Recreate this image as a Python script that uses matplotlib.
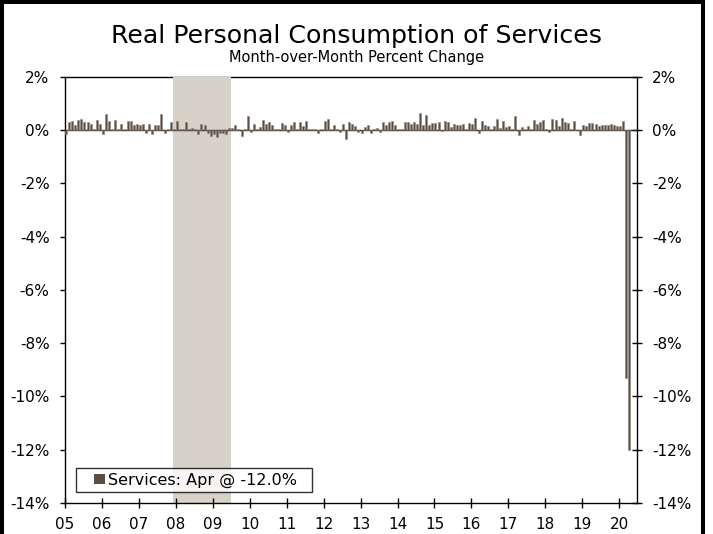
import matplotlib
matplotlib.use("Agg")
import matplotlib.pyplot as plt
from matplotlib.patches import Rectangle
from matplotlib.legend_handler import HandlerPatch

# month-over-month % change, Jan 2005 .. Apr 2020 (one line per year)
services_mom = [
    -0.15, 0.30, 0.35, 0.20, 0.40, 0.42, 0.30, 0.30, 0.25, 0.05, 0.40, 0.24,   # 2005
    -0.15, 0.60, 0.33, 0.05, 0.40, 0.05, 0.25, 0.05, 0.33, 0.35, 0.20, 0.25,   # 2006
    0.20, 0.25, -0.10, 0.25, -0.15, 0.18, 0.18, 0.60, -0.10, 0.05, 0.30, 0.05,  # 2007
    0.33, 0.05, 0.05, 0.30, 0.05, 0.10, 0.05, -0.15, 0.25, 0.18, -0.10, -0.22,  # 2008
    -0.15, -0.25, -0.10, -0.10, -0.15, 0.10, 0.10, 0.20, 0.03, -0.20, 0.03, 0.55,  # 2009
    -0.08, 0.25, 0.03, 0.12, 0.40, 0.25, 0.30, 0.20, 0.05, 0.03, 0.27, 0.20,   # 2010
    -0.08, 0.20, 0.30, 0.03, 0.30, 0.15, 0.36, 0.05, 0.03, 0.05, -0.10, 0.05,  # 2011
    0.36, 0.42, 0.03, 0.18, 0.03, -0.06, 0.25, -0.32, 0.30, 0.25, 0.15, -0.07,  # 2012
    -0.12, 0.12, 0.20, -0.12, 0.05, 0.08, -0.07, 0.30, 0.20, 0.30, 0.36, 0.20,  # 2013
    0.03, 0.03, 0.30, 0.30, 0.25, 0.32, 0.25, 0.65, 0.20, 0.57, 0.20, 0.27,    # 2014
    0.27, 0.31, -0.04, 0.33, 0.30, 0.12, 0.25, 0.20, 0.20, 0.25, 0.03, 0.27,   # 2015
    0.25, 0.45, -0.12, 0.33, 0.20, 0.17, 0.05, 0.15, 0.42, 0.08, 0.33, 0.12,   # 2016
    0.17, 0.03, 0.55, -0.16, 0.12, 0.05, 0.15, 0.05, 0.37, 0.25, 0.30, 0.37,   # 2017
    0.05, -0.07, 0.42, 0.37, 0.17, 0.45, 0.30, 0.27, 0.03, 0.33, 0.02, -0.16,  # 2018
    0.20, 0.15, 0.27, 0.27, 0.25, 0.15, 0.20, 0.20, 0.20, 0.22, 0.20, 0.17,    # 2019
    0.15, 0.35, -9.3, -12.0,                                                   # 2020
]
months = list(range(len(services_mom)))

year_labels = ["05", "06", "07", "08", "09", "10", "11", "12", "13", "14",
               "15", "16", "17", "18", "19", "20"]
year_ticks = [12 * i for i in range(len(year_labels))]

y_ticks = [2, 0, -2, -4, -6, -8, -10, -12, -14]
y_labels = ["2%", "0%", "-2%", "-4%", "-6%", "-8%", "-10%", "-12%", "-14%"]

# recession Dec 2007 - Jun 2009 (month index, end exclusive)
rec_start = 35
rec_end = 54

bar_color = '#5b4d44'
legend_label = 'Services: Apr @ -12.0%'

plt.rcParams['font.family'] = ['DejaVu Sans']


def square_right(legend, orig_handle, xdescent, ydescent, width, height, fontsize):
    # legend key: small square sitting at the right end of the handle box
    s = height
    return Rectangle((-xdescent + width - s, -ydescent), s, s)


fig = plt.figure(figsize=(7.13, 5.34), dpi=100)
ax = fig.add_axes([0.0912, 0.0581, 0.8018, 0.7977])

ax.axvspan(rec_start, rec_end, color='#d6d2c7', zorder=1, lw=0)
ax.bar(months, services_mom, width=0.65, align='edge', color=bar_color,
       edgecolor='#8f8379', linewidth=0.4, zorder=3)
ax.axhline(0, color='#222222', lw=1.0, zorder=2)

ax.set_xlim(0, 185.7)
ax.set_ylim(-14, 2)
ax.set_xticks(year_ticks)
ax.set_xticklabels(year_labels)
ax.set_yticks(y_ticks)
ax.set_yticklabels(y_labels)
ax.tick_params(axis='x', direction='inout', length=6.5, width=1, labelsize=11,
               pad=7)
ax.tick_params(axis='y', left=True, right=True, labelleft=True,
               labelright=True, labelsize=11, width=1, length=3.6,
               direction='out', pad=7.5)
# right-hand ticks cross the axis
for t in ax.yaxis.get_major_ticks():
    t.tick2line.set_marker('_')
    t.tick2line.set_markersize(7)

for s in ax.spines.values():
    s.set_linewidth(1)
ax.spines['top'].set_zorder(0.5)

proxy = Rectangle((0, 0), 1, 1, facecolor=bar_color, edgecolor='none')
leg = ax.legend([proxy], [legend_label], loc='lower left',
                bbox_to_anchor=(0.0192, 0.0266, 0.4123, 0.05),
                mode='expand', fontsize=11.5, frameon=True, fancybox=False,
                edgecolor='black', handlelength=1.55, handleheight=0.62,
                handletextpad=0.2, borderpad=0.25, borderaxespad=0,
                handler_map={Rectangle: HandlerPatch(patch_func=square_right)})
leg.get_frame().set_linewidth(1)

fig.text(0.5, 0.933, "Real Personal Consumption of Services", ha='center',
         va='center', fontsize=18.2)
fig.text(0.5, 0.893, "Month-over-Month Percent Change", ha='center',
         va='center', fontsize=10.5)

# black frame around the chart (right edge sits a little inside the image)
fig.patches.append(Rectangle((1.5 / 713, -0.05), 701.5 / 713, 1.05 - 1.5 / 534,
                             transform=fig.transFigure, fill=False,
                             edgecolor='black', linewidth=2.9))

fig.savefig("out.png", dpi=100)
